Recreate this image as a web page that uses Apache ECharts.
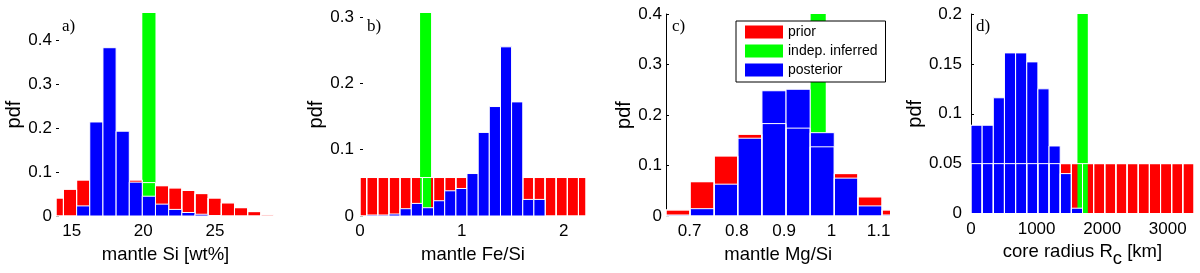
<!DOCTYPE html>
<html><head><meta charset="utf-8">
<script src="https://cdn.jsdelivr.net/npm/echarts@6/dist/echarts.min.js"></script>
<style>html,body{margin:0;padding:0;background:#fff}#c{width:1200px;height:273px}</style>
</head><body><div id="c"></div>
<script>
// ---------- Panel a: mantle Si [wt%] ----------
const edgesA = [13.50, 14.42, 15.34, 16.26, 17.18, 18.10, 19.02, 19.93, 20.85, 21.77, 22.69, 23.61, 24.53, 25.45, 26.37, 27.29, 28.21, 29.12];
const priorA = [0.041, 0.061, 0.082, 0.086, 0.088, 0.086, 0.082, 0.076, 0.069, 0.064, 0.058, 0.051, 0.041, 0.030, 0.019, 0.010, 0.003];
const posteriorA = [0, 0, 0.023, 0.214, 0.383, 0.193, 0.077, 0.045, 0.027, 0.015, 0.008, 0.004, 0.001, 0, 0, 0, 0];
const inferredA = [19.93, 20.85, 0.462];
const xTicksA = [15, 20, 25];
const yTicksA = [0, 0.1, 0.2, 0.3, 0.4];

// ---------- Panel b: mantle Fe/Si ----------
const edgesB = [-0.044, 0.066, 0.175, 0.285, 0.394, 0.504, 0.613, 0.723, 0.832, 0.942, 1.051, 1.161, 1.270, 1.380, 1.489, 1.599, 1.708, 1.818, 1.927, 2.037, 2.146, 2.256];
const priorB = [0.058, 0.058, 0.058, 0.058, 0.058, 0.058, 0.058, 0.058, 0.058, 0.058, 0.058, 0.058, 0.058, 0.058, 0.058, 0.058, 0.058, 0.058, 0.058, 0.058, 0.058];
const posteriorB = [0, 0.0015, 0.0015, 0.003, 0.011, 0.019, 0.0125, 0.023, 0.038, 0.0415, 0.064, 0.126, 0.165, 0.255, 0.172, 0.025, 0.025, 0, 0, 0, 0];
const inferredB = [0.59, 0.698, 0.306];
const xTicksB = [0, 1, 2];
const yTicksB = [0, 0.1, 0.2, 0.3];

// ---------- Panel c: mantle Mg/Si ----------
const edgesC = [0.650, 0.701, 0.752, 0.802, 0.853, 0.904, 0.955, 1.006, 1.056, 1.107, 1.158];
const priorC = [0.012, 0.068, 0.119, 0.162, 0.183, 0.174, 0.137, 0.084, 0.038, 0.012];
const posteriorC = [0.002, 0.0145, 0.063, 0.154, 0.248, 0.251, 0.165, 0.075, 0.020, 0.002];
const inferredC = [0.956, 0.988, 0.4];
const xTicksC = [0.7, 0.8, 0.9, 1, 1.1];
const yTicksC = [0, 0.1, 0.2, 0.3, 0.4];

// ---------- Panel d: core radius ----------
const edgesD = [0, 170, 340, 510, 680, 850, 1020, 1190, 1360, 1530, 1700, 1870, 2040, 2210, 2380, 2550, 2720, 2890, 3060, 3230, 3400];
const priorD = [0.05, 0.05, 0.05, 0.05, 0.05, 0.05, 0.05, 0.05, 0.05, 0.05, 0.05, 0.05, 0.05, 0.05, 0.05, 0.05, 0.05, 0.05, 0.05, 0.05];
const posteriorD = [0.0885, 0.0885, 0.116, 0.161, 0.161, 0.152, 0.125, 0.0677, 0.040, 0.0053, 0, 0, 0, 0, 0, 0, 0, 0, 0, 0];
const inferredD = [1623, 1781, 0.2];
const xTicksD = [0, 1000, 2000, 3000];
const yTicksD = [0, 0.05, 0.1, 0.15, 0.2];

const panelLabels = ['a)', 'b)', 'c)', 'd)'];
const xNames = ['mantle Si [wt%]', 'mantle Fe/Si', 'mantle Mg/Si', 'core radius R{sub|c} [km]'];
const seriesNames = ['prior', 'indep. inferred', 'posterior'];

const RED = '#ff0000', GREEN = '#00ff00', BLUE = '#0000ff';
const SANS = 'Liberation Sans, Arial, sans-serif';

const panels = [
  {edges: edgesA, prior: priorA, post: posteriorA, inf: inferredA, xt: xTicksA, yt: yTicksA,
   grid: {left: 56, top: 13, width: 219, height: 203}, xr: [13.9, 29.2], yr: [0, 0.462],
   axisLine: false, labMargin: 4, yGap: 32, xGap: 29, edgeOnTop: false, lab: [62, 18]},
  {edges: edgesB, prior: priorB, post: posteriorB, inf: inferredB, xt: xTicksB, yt: yTicksB,
   grid: {left: 360, top: 13, width: 226, height: 203}, xr: [0, 2.22], yr: [0, 0.306],
   axisLine: false, labMargin: 6, yGap: 32, xGap: 29, edgeOnTop: false, lab: [367, 18]},
  {edges: edgesC, prior: priorC, post: posteriorC, inf: inferredC, xt: xTicksC, yt: yTicksC,
   grid: {left: 666, top: 14, width: 224.5, height: 202}, xr: [0.65, 1.125], yr: [0, 0.4],
   axisLine: true, labMargin: 4, yGap: 32, xGap: 29, edgeOnTop: true, lab: [672, 18]},
  {edges: edgesD, prior: priorD, post: posteriorD, inf: inferredD, xt: xTicksD, yt: yTicksD,
   grid: {left: 971, top: 14, width: 223, height: 202}, xr: [0, 3400], yr: [0, 0.2],
   axisLine: true, labMargin: 9, yGap: 43, xGap: 22.5, edgeOnTop: true, lab: [976, 18]}
];

function binData(edges, vals) {
  return vals.map((v, i) => [edges[i], edges[i + 1], v]);
}

function rectRenderer(fill, stroke, lw) {
  return function (params, api) {
    const h = api.value(2);
    if (!(h > 0)) return null;
    const p0 = api.coord([api.value(0), h]);
    const p1 = api.coord([api.value(1), 0]);
    const cs = params.coordSys;
    const shape = echarts.graphic.clipRectByRect(
      {x: p0[0], y: p0[1], width: p1[0] - p0[0], height: p1[1] - p0[1]},
      {x: cs.x, y: cs.y, width: cs.width, height: cs.height});
    if (!shape) return null;
    return {type: 'rect', shape: shape, style: {fill: fill, stroke: stroke, lineWidth: lw}};
  };
}

const grids = [], xAxes = [], yAxes = [], series = [], titles = [];
panels.forEach((p, i) => {
  grids.push(Object.assign({containLabel: false}, p.grid));
  xAxes.push({
    type: 'value', gridIndex: i, min: p.xr[0], max: p.xr[1],
    axisLine: {show: false}, axisTick: {show: false}, splitLine: {show: false},
    axisLabel: {customValues: p.xt, formatter: v => String(v), margin: 7,
      fontFamily: SANS, fontSize: 17, color: '#000'},
    name: xNames[i], nameLocation: 'middle', nameGap: p.xGap,
    nameTextStyle: {fontFamily: SANS, fontSize: 18.5, color: '#000',
      rich: {sub: {fontFamily: SANS, fontSize: 18.5, color: '#000', verticalAlign: 'bottom', padding: [13, 0, 0, 0]}}}
  });
  yAxes.push({
    type: 'value', gridIndex: i, min: p.yr[0], max: p.yr[1],
    axisLine: {show: p.axisLine, lineStyle: {color: '#000', width: 1}},
    axisTick: {show: true, inside: true, length: 3, customValues: p.yt, lineStyle: {color: '#000'}},
    splitLine: {show: false},
    axisLabel: {customValues: p.yt, formatter: v => String(v), margin: p.labMargin,
      fontFamily: SANS, fontSize: 17, color: '#000'},
    name: 'pdf', nameLocation: 'middle', nameGap: p.yGap,
    nameTextStyle: {fontFamily: SANS, fontSize: 20, color: '#000'}
  });
  series.push({
    type: 'custom', name: seriesNames[0], xAxisIndex: i, yAxisIndex: i, z: 2,
    itemStyle: {color: RED}, encode: {x: [0, 1], y: 2},
    renderItem: rectRenderer(RED, '#ffffff', 1), data: binData(p.edges, p.prior), silent: true
  });
  series.push({
    type: 'custom', name: seriesNames[1], xAxisIndex: i, yAxisIndex: i, z: 3,
    itemStyle: {color: GREEN}, encode: {x: [0, 1], y: 2},
    renderItem: rectRenderer(GREEN, null, 0), data: [p.inf], silent: true
  });
  series.push({
    type: 'custom', name: 'prior-edges', xAxisIndex: i, yAxisIndex: i, z: p.edgeOnTop ? 6 : 4,
    itemStyle: {color: '#ffffff'}, encode: {x: [0, 1], y: 2},
    renderItem: rectRenderer('none', '#ffffff', 1), data: binData(p.edges, p.prior), silent: true
  });
  series.push({
    type: 'custom', name: seriesNames[2], xAxisIndex: i, yAxisIndex: i, z: 5,
    itemStyle: {color: BLUE}, encode: {x: [0, 1], y: 2},
    renderItem: rectRenderer(BLUE, '#ffffff', 1), data: binData(p.edges, p.post), silent: true
  });
  titles.push({
    text: panelLabels[i], left: p.lab[0], top: p.lab[1], padding: 0, z: 10,
    textStyle: {fontFamily: 'Liberation Serif, Times New Roman, serif', fontSize: 17, fontWeight: 'normal', color: '#000'}
  });
});

const chart = echarts.init(document.getElementById('c'), null, {renderer: 'canvas'});
chart.setOption({
  animation: false,
  backgroundColor: '#fff',
  title: titles,
  grid: grids, xAxis: xAxes, yAxis: yAxes, series: series,
  legend: {
    data: seriesNames, orient: 'vertical', left: 736, top: 21, z: 10,
    padding: [4, 8, 5, 9], itemGap: 5, itemWidth: 38, itemHeight: 13, icon: 'rect',
    borderColor: '#000', borderWidth: 1, borderRadius: 0, backgroundColor: '#fff',
    selectedMode: false, itemStyle: {borderWidth: 0},
    textStyle: {fontFamily: SANS, fontSize: 14, color: '#000', padding: [0, 0, 0, 0]}
  }
});
</script>
</body></html>
